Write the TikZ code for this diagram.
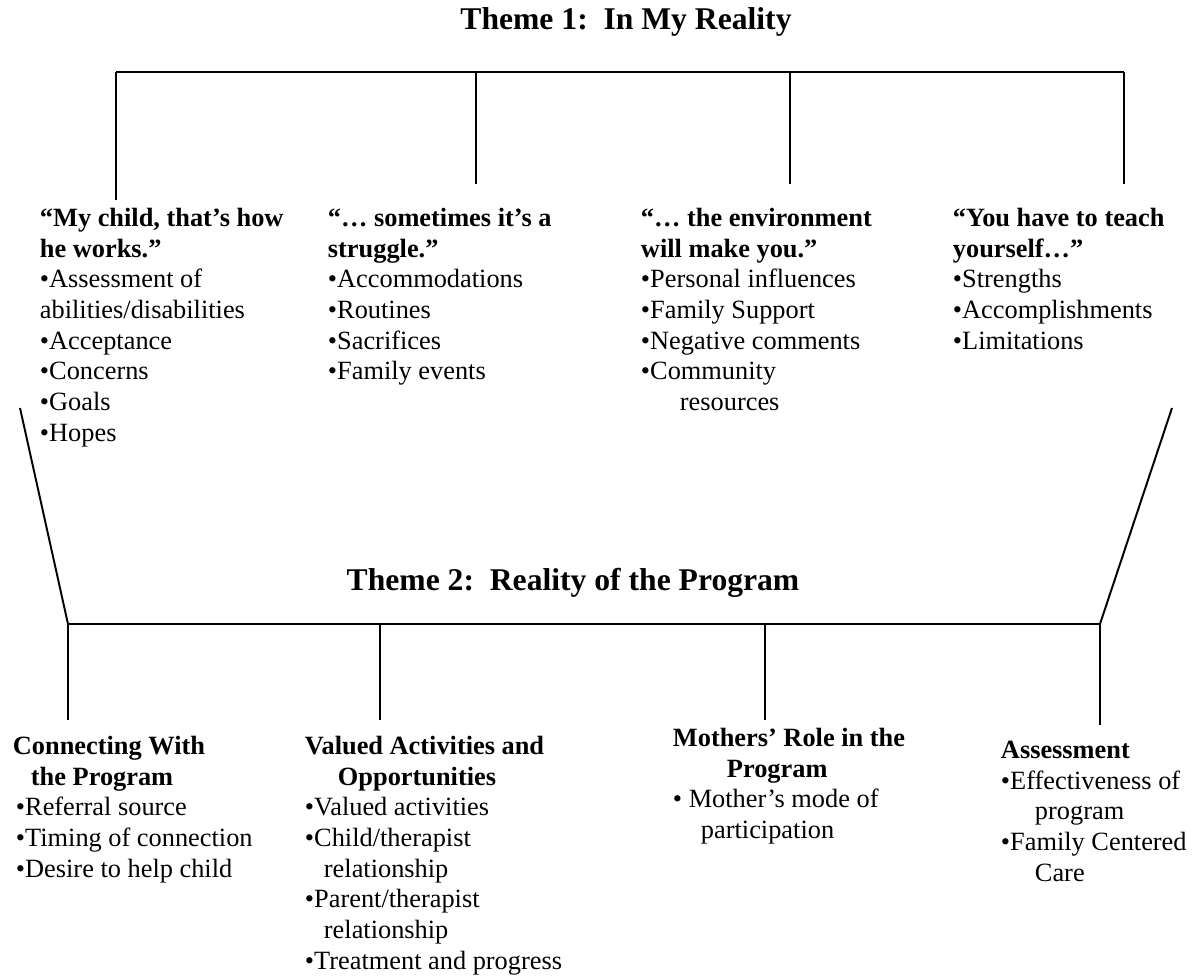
\documentclass[tikz,border=0pt]{standalone}
\usepackage{fontspec}
\setmainfont{Liberation Serif}
\usetikzlibrary{positioning}

\begin{document}
\begin{tikzpicture}[x=0.02cm, y=-0.02cm, line width=1.1pt]
\tikzstyle{ttl}=[anchor=base,inner sep=0,font=\fontsize{18}{21}\selectfont\bfseries]
\tikzstyle{grp}=[anchor=north west,inner sep=0,align=left,font=\fontsize{15}{17.5}\selectfont]
\useasboundingbox (0,0) rectangle (1197,977);
\node[ttl] (th1) at (626,30) {Theme 1:\ \ In My Reality};
\node[ttl] (th2) at (573,590) {Theme 2:\ \ Reality of the Program};
\node[grp] (c1) at (39,207) {\textbf{“My child, that’s how}\\\textbf{he works.”}\\•Assessment of\\abilities/disabilities\\•Acceptance\\•Concerns\\•Goals\\•Hopes};
\node[grp] (c2) at (327,207) {\textbf{“… sometimes it’s a}\\\textbf{struggle.”}\\•Accommodations\\•Routines\\•Sacrifices\\•Family events};
\node[grp] (c3) at (640,207) {\textbf{“… the environment}\\\textbf{will make you.”}\\•Personal influences\\•Family Support\\•Negative comments\\•Community\\\hspace*{0.78cm}resources};
\node[grp] (c4) at (952,207) {\textbf{“You have to teach}\\\textbf{yourself…”}\\•Strengths\\•Accomplishments\\•Limitations};
\node[grp] (b1) at (12,735) {\textbf{Connecting With}\\\hspace*{0.36cm}\textbf{the Program}\\\hspace*{0.06cm}•Referral source\\\hspace*{0.06cm}•Timing of connection\\\hspace*{0.06cm}•Desire to help child};
\node[grp] (b2) at (304,735) {\textbf{Valued Activities and}\\\hspace*{0.66cm}\textbf{Opportunities}\\•Valued activities\\•Child/therapist\\\hspace*{0.38cm}relationship\\•Parent/therapist\\\hspace*{0.38cm}relationship\\•Treatment and progress};
\node[grp] (b3) at (672,727) {\textbf{Mothers’ Role in the}\\\hspace*{1.08cm}\textbf{Program}\\• Mother’s mode of\\\hspace*{0.56cm}participation};
\node[grp] (b4) at (1000,740) {\textbf{Assessment}\\•Effectiveness of\\\hspace*{0.68cm}program\\•Family Centered\\\hspace*{0.68cm}Care};
% top bracket
\coordinate (ta) at (116,72);
\coordinate (tb) at (476,72);
\coordinate (tc) at (790,72);
\coordinate (td) at (1124,72);
\coordinate (ea) at (116,200);
\coordinate (eb) at (476,184);
\coordinate (ec) at (790,184);
\coordinate (ed) at (1124,184);
\draw (ta) -- (td);
\draw (ta) -- (ea);
\draw (tb) -- (eb);
\draw (tc) -- (ec);
\draw (td) -- (ed);
% funnel and bottom bracket
\coordinate (sl) at (20,408);
\coordinate (sr) at (1172,408);
\coordinate (ba) at (68,624);
\coordinate (bb) at (380,624);
\coordinate (bc) at (765,624);
\coordinate (bd) at (1100,624);
\coordinate (fa) at (68,720);
\coordinate (fb) at (380,720);
\coordinate (fc) at (765,720);
\coordinate (fd) at (1100,725);
\draw (sl) -- (ba) -- (bd) -- (sr);
\draw (ba) -- (fa);
\draw (bb) -- (fb);
\draw (bc) -- (fc);
\draw (bd) -- (fd);
\end{tikzpicture}
\end{document}
